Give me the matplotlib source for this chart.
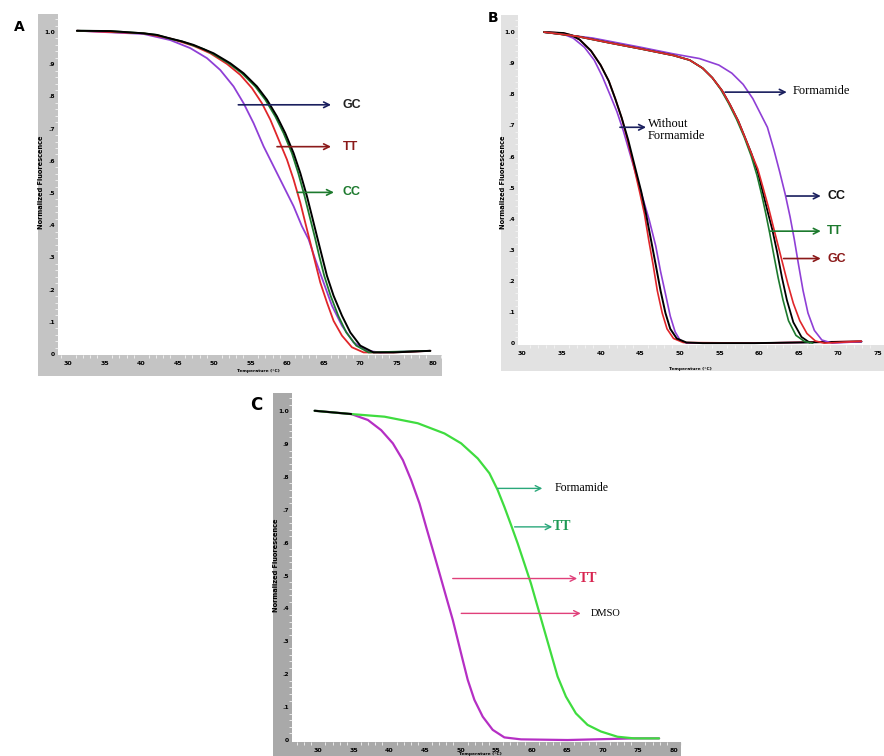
import matplotlib
matplotlib.use('Agg')
import matplotlib.pyplot as plt

W, H = 884, 756

# --- panel A: melting curves (temperature, normalised signal)
a_purple_t = [31.19, 40.32, 43.98, 46.72, 49.00, 50.83, 52.65, 54.02, 55.39, 56.76, 58.13, 59.50, 60.87, 62.01,
              62.93, 63.84, 64.98, 66.13, 67.50, 69.09, 70.92, 72.75, 79.60]
a_purple_y = [1.004, 0.994, 0.975, 0.950, 0.919, 0.882, 0.831, 0.779, 0.717, 0.645, 0.583, 0.521, 0.459, 0.397,
              0.356, 0.294, 0.222, 0.150, 0.088, 0.036, 0.010, 0.005, 0.010]
a_red_t = [31.19, 40.32, 43.98, 47.17, 49.46, 51.74, 53.57, 55.16, 56.53, 57.68, 58.82, 59.96, 60.87, 61.79,
           62.47, 63.16, 63.84, 64.53, 65.44, 66.35, 67.50, 68.86, 70.46, 74.57, 79.60]
a_red_y = [1.004, 0.996, 0.980, 0.957, 0.934, 0.901, 0.867, 0.826, 0.779, 0.728, 0.666, 0.604, 0.542, 0.470,
           0.408, 0.346, 0.284, 0.222, 0.160, 0.103, 0.057, 0.021, 0.005, 0.005, 0.010]
a_green_t = [31.19, 35.76, 40.32, 42.15, 43.98, 45.57, 47.17, 48.54, 49.68, 51.97, 53.79, 55.62, 56.99, 58.36,
             59.50, 60.64, 61.51, 62.38, 63.06, 63.75, 64.39, 65.07, 65.94, 66.99, 68.09, 69.46, 71.15, 79.60]
a_green_y = [1.004, 1.003, 0.996, 0.991, 0.979, 0.971, 0.958, 0.947, 0.934, 0.903, 0.872, 0.831, 0.790, 0.738,
             0.686, 0.624, 0.562, 0.490, 0.428, 0.366, 0.304, 0.243, 0.181, 0.119, 0.067, 0.026, 0.005, 0.010]
a_black_t = [31.19, 35.76, 40.32, 42.15, 43.98, 45.57, 47.17, 48.54, 49.91, 52.20, 54.02, 55.85, 57.22, 58.59,
             59.73, 60.87, 61.79, 62.70, 63.39, 64.07, 64.76, 65.44, 66.35, 67.50, 68.64, 70.01, 71.83, 74.57, 79.60]
a_black_y = [1.004, 1.003, 0.996, 0.991, 0.980, 0.971, 0.960, 0.947, 0.934, 0.903, 0.872, 0.831, 0.790, 0.738,
             0.686, 0.624, 0.562, 0.490, 0.428, 0.366, 0.304, 0.243, 0.181, 0.119, 0.067, 0.026, 0.005, 0.005, 0.010]

# --- panel B: without formamide (left group) and with formamide (right group)
b_purple_l_t = [32.79, 34.83, 36.47, 37.91, 39.14, 40.16, 41.18, 42.00, 42.82, 43.64, 44.46, 45.28, 46.10, 46.92,
                47.53, 48.15, 48.76, 49.38, 49.99, 50.81, 59.42, 72.94]
b_purple_l_y = [1.0, 0.997, 0.981, 0.951, 0.910, 0.858, 0.796, 0.745, 0.683, 0.611, 0.539, 0.467, 0.396, 0.313,
                0.231, 0.159, 0.087, 0.036, 0.010, 0.0, 0.0, 0.005]
b_black_l_t = [32.79, 35.24, 36.27, 37.29, 38.73, 39.95, 40.98, 41.80, 42.62, 43.44, 44.26, 45.08, 45.69, 46.31,
               46.92, 47.53, 48.15, 48.76, 49.58, 50.81, 52.86, 59.42, 72.94]
b_black_l_y = [1.0, 0.997, 0.990, 0.976, 0.940, 0.894, 0.843, 0.786, 0.724, 0.653, 0.570, 0.488, 0.416, 0.334,
               0.252, 0.169, 0.097, 0.046, 0.015, 0.002, 0.0, 0.0, 0.005]
b_red_l_t = [32.79, 35.24, 36.27, 37.29, 38.73, 39.95, 40.98, 41.80, 42.62, 43.36, 44.13, 44.87, 45.49, 46.02,
             46.59, 47.12, 47.74, 48.35, 49.17, 50.40, 59.42, 72.94]
b_red_l_y = [1.0, 0.997, 0.990, 0.976, 0.940, 0.894, 0.843, 0.786, 0.724, 0.653, 0.570, 0.488, 0.416, 0.334,
             0.252, 0.169, 0.097, 0.046, 0.015, 0.002, 0.0, 0.006]

b_black_f_t = [32.79, 36.88, 40.98, 45.08, 49.17, 51.22, 52.86, 54.09, 55.32, 56.34, 57.37, 58.19, 59.01, 59.83,
               60.44, 61.05, 61.67, 62.28, 62.90, 63.51, 64.33, 65.36, 66.38]
b_black_f_y = [1.0, 0.987, 0.966, 0.946, 0.925, 0.910, 0.884, 0.853, 0.812, 0.766, 0.714, 0.663, 0.611, 0.550,
               0.488, 0.426, 0.365, 0.293, 0.210, 0.139, 0.067, 0.020, 0.002]
b_red_f_t = [32.79, 36.88, 40.98, 45.08, 49.17, 51.22, 52.86, 54.09, 55.32, 56.34, 57.37, 58.19, 59.01, 59.83,
             60.52, 61.18, 61.79, 62.41, 63.02, 63.64, 64.33, 65.15, 66.05, 67.12, 68.22, 72.94]
b_red_f_y = [1.0, 0.987, 0.966, 0.946, 0.925, 0.910, 0.884, 0.853, 0.812, 0.766, 0.714, 0.663, 0.611, 0.560,
             0.498, 0.437, 0.375, 0.313, 0.252, 0.190, 0.128, 0.072, 0.031, 0.007, 0.0, 0.006]
b_green_f_t = [32.79, 36.88, 40.98, 45.08, 49.17, 51.22, 52.86, 54.09, 55.11, 56.14, 57.16, 58.11, 59.01, 59.74,
               60.32, 60.85, 61.34, 61.87, 62.41, 63.02, 63.72, 64.66, 65.77, 66.79]
b_green_f_y = [1.0, 0.987, 0.966, 0.946, 0.925, 0.910, 0.884, 0.853, 0.817, 0.771, 0.719, 0.663, 0.601, 0.539,
               0.478, 0.416, 0.354, 0.282, 0.210, 0.139, 0.072, 0.025, 0.005, 0.0]
b_purple_f_t = [32.79, 38.93, 45.08, 49.17, 52.45, 54.91, 56.55, 57.98, 59.21, 60.23, 61.05, 61.87, 62.61, 63.31,
                63.92, 64.45, 64.99, 65.56, 66.18, 66.99, 67.94, 69.25, 72.94]
b_purple_f_y = [1.0, 0.981, 0.951, 0.930, 0.915, 0.894, 0.868, 0.832, 0.786, 0.735, 0.694, 0.622, 0.550, 0.478,
                0.406, 0.334, 0.252, 0.169, 0.097, 0.041, 0.010, 0.0, 0.005]

# --- panel C: DMSO vs formamide (TT)
c_dmso_t = [29.48, 34.63, 36.97, 38.84, 40.48, 41.89, 43.06, 44.23, 45.16, 46.10, 47.04, 47.97, 48.91, 49.61,
            50.31, 51.01, 51.95, 53.12, 54.52, 56.16, 58.50, 65.05, 74.41, 77.92]
c_dmso_y = [1.001, 0.991, 0.973, 0.942, 0.902, 0.851, 0.790, 0.719, 0.648, 0.578, 0.507, 0.436, 0.365, 0.304,
            0.243, 0.183, 0.122, 0.071, 0.031, 0.008, 0.002, 0.0, 0.005, 0.005]
c_form_t = [29.48, 34.63, 39.31, 43.99, 47.74, 50.08, 52.42, 54.06, 55.22, 56.16, 57.10, 58.03, 58.97, 59.90,
            60.84, 61.78, 62.71, 63.65, 64.82, 66.22, 67.86, 69.73, 72.07, 74.41, 77.92]
c_form_y = [1.001, 0.991, 0.983, 0.963, 0.932, 0.902, 0.856, 0.811, 0.760, 0.709, 0.654, 0.598, 0.537, 0.476,
            0.405, 0.334, 0.264, 0.193, 0.132, 0.081, 0.046, 0.026, 0.010, 0.005, 0.005]

x_ticks_a = [30, 35, 40, 45, 50, 55, 60, 65, 70, 75, 80]
x_ticks_b = [30, 35, 40, 45, 50, 55, 60, 65, 70, 75]
x_ticks_c = [30, 35, 40, 45, 50, 55, 60, 65, 70, 75, 80]
y_ticks = [0, 0.1, 0.2, 0.3, 0.4, 0.5, 0.6, 0.7, 0.8, 0.9, 1.0]
y_labels = ['0', '.1', '.2', '.3', '.4', '.5', '.6', '.7', '.8', '.9', '1.0']

PURPLE = '#8f3fd6'
RED = '#e0262a'
DGREEN = '#1d7a2e'
NAVY = '#1a1f5e'
DRED = '#8b1a1a'
MAGENTA = '#b52fc4'
LGREEN = '#3fdc3f'
TEAL = '#2aa87a'
PINK = '#e0407a'

fig = plt.figure(figsize=(W / 100, H / 100), dpi=100)


def rect(l, t, r, b):
    return [l / W, 1 - b / H, (r - l) / W, (b - t) / H]


def panel(frame, plot, gray, xlim, ylim, xticks):
    bg = fig.add_axes(rect(*frame))
    bg.set_facecolor(gray)
    bg.set_xticks([])
    bg.set_yticks([])
    for s in bg.spines.values():
        s.set_visible(False)
    ax = fig.add_axes(rect(*plot))
    ax.set_xlim(*xlim)
    ax.set_ylim(*ylim)
    ax.set_xticks(xticks)
    ax.set_xticklabels([str(t) for t in xticks], fontsize=4.5, fontweight='bold')
    ax.set_yticks(y_ticks)
    ax.set_yticklabels(y_labels, fontsize=4.3, fontweight='bold')
    ax.minorticks_on()
    ax.tick_params(which='major', length=0)
    ax.tick_params(axis='y', which='major', pad=2)
    ax.tick_params(axis='x', which='major', pad=4)
    ax.tick_params(which='minor', length=2, color='#f4f4f4', direction='out')
    for s in ax.spines.values():
        s.set_visible(False)
    return ax


lab_font = ['Liberation Sans', 'DejaVu Sans']
serif = ['Liberation Serif', 'DejaVu Serif']


def arrow(ax, x0, x1, y, color, lw=1.2):
    ax.annotate('', xy=(x1, y), xytext=(x0, y),
                arrowprops=dict(arrowstyle='->', color=color, lw=lw, shrinkA=0, shrinkB=0))


def curve(ax, t, y, color, lw=1.3):
    ax.plot(t, y, color=color, lw=lw, solid_joinstyle='round', solid_capstyle='round')


# A
ax = panel((38, 14, 442, 376), (58, 14, 442, 355), '#c4c4c4', (28.6, 81.2), (-0.003, 1.056), x_ticks_a)
curve(ax, a_purple_t, a_purple_y, PURPLE)
curve(ax, a_red_t, a_red_y, RED)
curve(ax, a_green_t, a_green_y, DGREEN)
curve(ax, a_black_t, a_black_y, 'black', lw=1.4)
arrow(ax, 53.3, 66.0, 0.774, NAVY)
arrow(ax, 58.6, 66.0, 0.644, DRED)
arrow(ax, 61.4, 66.4, 0.502, DGREEN)
ax.text(67.6, 0.774, 'GC', color='#222222', fontsize=9, family=lab_font, fontweight='bold', va='center')
ax.text(67.6, 0.644, 'TT', color=DRED, fontsize=9, family=lab_font, fontweight='bold', va='center')
ax.text(67.6, 0.502, 'CC', color=DGREEN, fontsize=9, family=lab_font, fontweight='bold', va='center')
fig.text(14 / W, 1 - 27 / H, 'A', fontsize=10, fontweight='bold', va='center')
fig.text(41 / W, 1 - 182 / H, 'Normalized Fluorescence', fontsize=4.8, fontweight='bold',
         rotation=90, ha='center', va='center')
fig.text(258 / W, 1 - 371 / H, 'Temperature (°C)', fontsize=3.2, fontweight='bold', ha='center', va='center')

# B
ax = panel((501, 15, 884, 371), (518, 15, 884, 345), '#e2e2e2', (29.5, 75.8), (-0.006, 1.055), x_ticks_b)
curve(ax, b_purple_l_t, b_purple_l_y, PURPLE, lw=1.2)
curve(ax, b_red_l_t, b_red_l_y, RED, lw=1.2)
curve(ax, b_black_l_t, b_black_l_y, 'black', lw=1.4)
curve(ax, b_purple_f_t, b_purple_f_y, PURPLE, lw=1.2)
curve(ax, b_black_f_t, b_black_f_y, 'black', lw=1.3)
curve(ax, b_green_f_t, b_green_f_y, DGREEN, lw=1.2)
curve(ax, b_red_f_t, b_red_f_y, RED, lw=1.2)
arrow(ax, 55.7, 63.5, 0.807, NAVY)
arrow(ax, 42.4, 45.7, 0.694, NAVY)
arrow(ax, 63.5, 67.8, 0.473, NAVY)
arrow(ax, 61.4, 67.8, 0.360, DGREEN)
arrow(ax, 63.1, 67.8, 0.272, DRED)
ax.text(64.3, 0.810, 'Formamide', fontsize=9, family=serif, va='center')
ax.text(45.9, 0.685, 'Without\nFormamide', fontsize=9, family=serif, va='center', linespacing=1.0)
ax.text(68.6, 0.473, 'CC', color='#111111', fontsize=9, family=lab_font, fontweight='bold', va='center')
ax.text(68.6, 0.360, 'TT', color=DGREEN, fontsize=9, family=lab_font, fontweight='bold', va='center')
ax.text(68.6, 0.272, 'GC', color=DRED, fontsize=9, family=lab_font, fontweight='bold', va='center')
fig.text(488 / W, 1 - 18 / H, 'B', fontsize=10, fontweight='bold', va='center')
fig.text(503 / W, 1 - 182 / H, 'Normalized Fluorescence', fontsize=4.8, fontweight='bold',
         rotation=90, ha='center', va='center')
fig.text(690 / W, 1 - 369 / H, 'Temperature (°C)', fontsize=3.2, fontweight='bold', ha='center', va='center')

# C
ax = panel((273, 393, 681, 756), (292, 393, 681, 742), '#a9a9a9', (26.3, 81.0), (-0.006, 1.055), x_ticks_c)
curve(ax, c_dmso_t, c_dmso_y, MAGENTA, lw=1.6)
curve(ax, c_form_t, c_form_y, LGREEN, lw=1.6)
curve(ax, c_dmso_t[:2], c_dmso_y[:2], 'black', lw=1.4)
arrow(ax, 55.2, 61.5, 0.765, TEAL, lw=1.0)
arrow(ax, 57.6, 62.9, 0.648, TEAL, lw=1.0)
arrow(ax, 48.9, 66.4, 0.491, PINK, lw=1.0)
arrow(ax, 50.1, 66.9, 0.385, PINK, lw=1.0)
ax.text(63.2, 0.765, 'Formamide', fontsize=8.5, family=serif, va='center')
ax.text(63.0, 0.648, 'TT', color='#1f9a55', fontsize=10, family=serif, fontweight='bold', va='center')
ax.text(66.6, 0.491, 'TT', color='#d8234f', fontsize=10, family=serif, fontweight='bold', va='center')
ax.text(68.3, 0.385, 'DMSO', fontsize=7.5, family=serif, va='center')
fig.text(250 / W, 1 - 405 / H, 'C', fontsize=12, fontweight='bold', va='center')
fig.text(276 / W, 1 - 565 / H, 'Normalized Fluorescence', fontsize=4.8, fontweight='bold',
         rotation=90, ha='center', va='center')
fig.text(480 / W, 1 - 754 / H, 'Temperature (°C)', fontsize=3.2, fontweight='bold', ha='center', va='center')

plt.savefig('out.png', dpi=100)
plt.close()
